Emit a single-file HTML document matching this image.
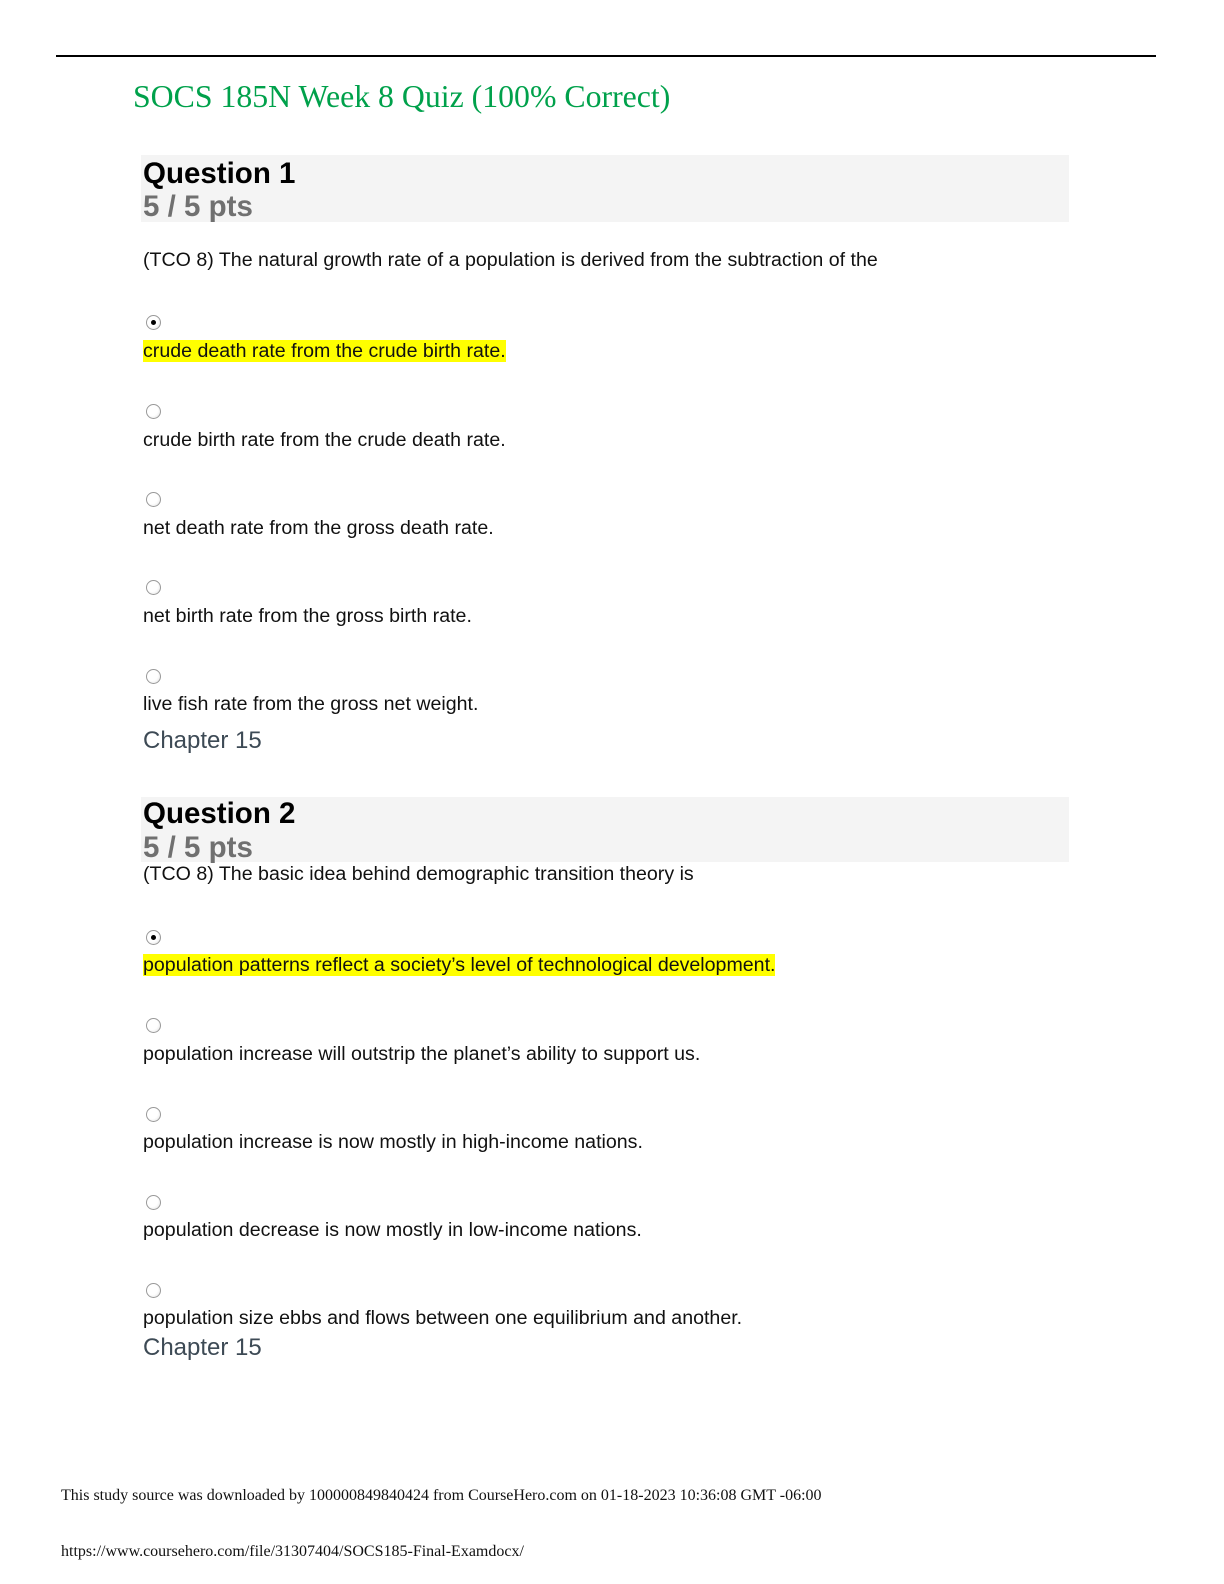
<!DOCTYPE html>
<html><head><meta charset="utf-8"><style>
body{margin:0;width:1224px;height:1584px;background:#fff;position:relative;overflow:hidden;font-family:"Liberation Sans",sans-serif}
.a{position:absolute;white-space:nowrap}
.t{font-size:19.6px;line-height:19px;color:#111;left:143px}
.hl{background:#ffff00}
.r{position:absolute;left:146px;width:15px;height:15px;border-radius:50%;border:1px solid #999;box-sizing:border-box;background:radial-gradient(circle at 40% 40%,#fff 50%,#ddd)}
.r.on::after{content:"";position:absolute;left:4px;top:4px;width:5px;height:5px;border-radius:50%;background:#000}
.box{position:absolute;left:141px;width:928px;background:#f4f4f4}
.q{font-size:29.5px;line-height:29px;font-weight:bold;color:#000;left:143px}
.p{font-size:29.5px;line-height:29px;font-weight:bold;color:#707070;left:143px}
.ch{font-size:24px;line-height:24px;color:#3d4a55;left:143px}
.f{font-family:"Liberation Serif",serif;font-size:16px;line-height:16px;color:#111;left:61px}
</style></head><body>
<div class="a" style="left:56px;top:55px;width:1100px;height:2px;background:#000"></div>
<div class="a" style="left:133px;top:80px;font-family:'Liberation Serif',serif;font-size:31.8px;line-height:34px;color:#00a14b">SOCS 185N Week 8 Quiz (100% Correct)</div>

<div class="box" style="top:155px;height:67px"></div>
<div class="a q" style="top:159px">Question 1</div>
<div class="a p" style="top:192px">5 / 5 pts</div>
<div class="a t" style="top:251px">(TCO 8) The natural growth rate of a population is derived from the subtraction of the</div>
<div class="r on" style="top:315px"></div>
<div class="a t" style="top:342px"><span class="hl">crude death rate from the crude birth rate.</span></div>
<div class="r" style="top:404px"></div>
<div class="a t" style="top:431px">crude birth rate from the crude death rate.</div>
<div class="r" style="top:492px"></div>
<div class="a t" style="top:519px">net death rate from the gross death rate.</div>
<div class="r" style="top:580px"></div>
<div class="a t" style="top:607px">net birth rate from the gross birth rate.</div>
<div class="r" style="top:669px"></div>
<div class="a t" style="top:695px">live fish rate from the gross net weight.</div>
<div class="a ch" style="top:729px">Chapter 15</div>

<div class="box" style="top:797px;height:65px"></div>
<div class="a q" style="top:799px">Question 2</div>
<div class="a p" style="top:833px">5 / 5 pts</div>
<div class="a t" style="top:865px">(TCO 8) The basic idea behind demographic transition theory is</div>
<div class="r on" style="top:930px"></div>
<div class="a t" style="top:956px"><span class="hl">population patterns reflect a society’s level of technological development.</span></div>
<div class="r" style="top:1018px"></div>
<div class="a t" style="top:1045px">population increase will outstrip the planet’s ability to support us.</div>
<div class="r" style="top:1107px"></div>
<div class="a t" style="top:1133px">population increase is now mostly in high-income nations.</div>
<div class="r" style="top:1195px"></div>
<div class="a t" style="top:1221px">population decrease is now mostly in low-income nations.</div>
<div class="r" style="top:1283px"></div>
<div class="a t" style="top:1309px">population size ebbs and flows between one equilibrium and another.</div>
<div class="a ch" style="top:1336px">Chapter 15</div>

<div class="a f" style="top:1488px">This study source was downloaded by 100000849840424 from CourseHero.com on 01-18-2023 10:36:08 GMT -06:00</div>
<div class="a f" style="top:1544px">https://www.coursehero.com/file/31307404/SOCS185-Final-Examdocx/</div>
</body></html>
